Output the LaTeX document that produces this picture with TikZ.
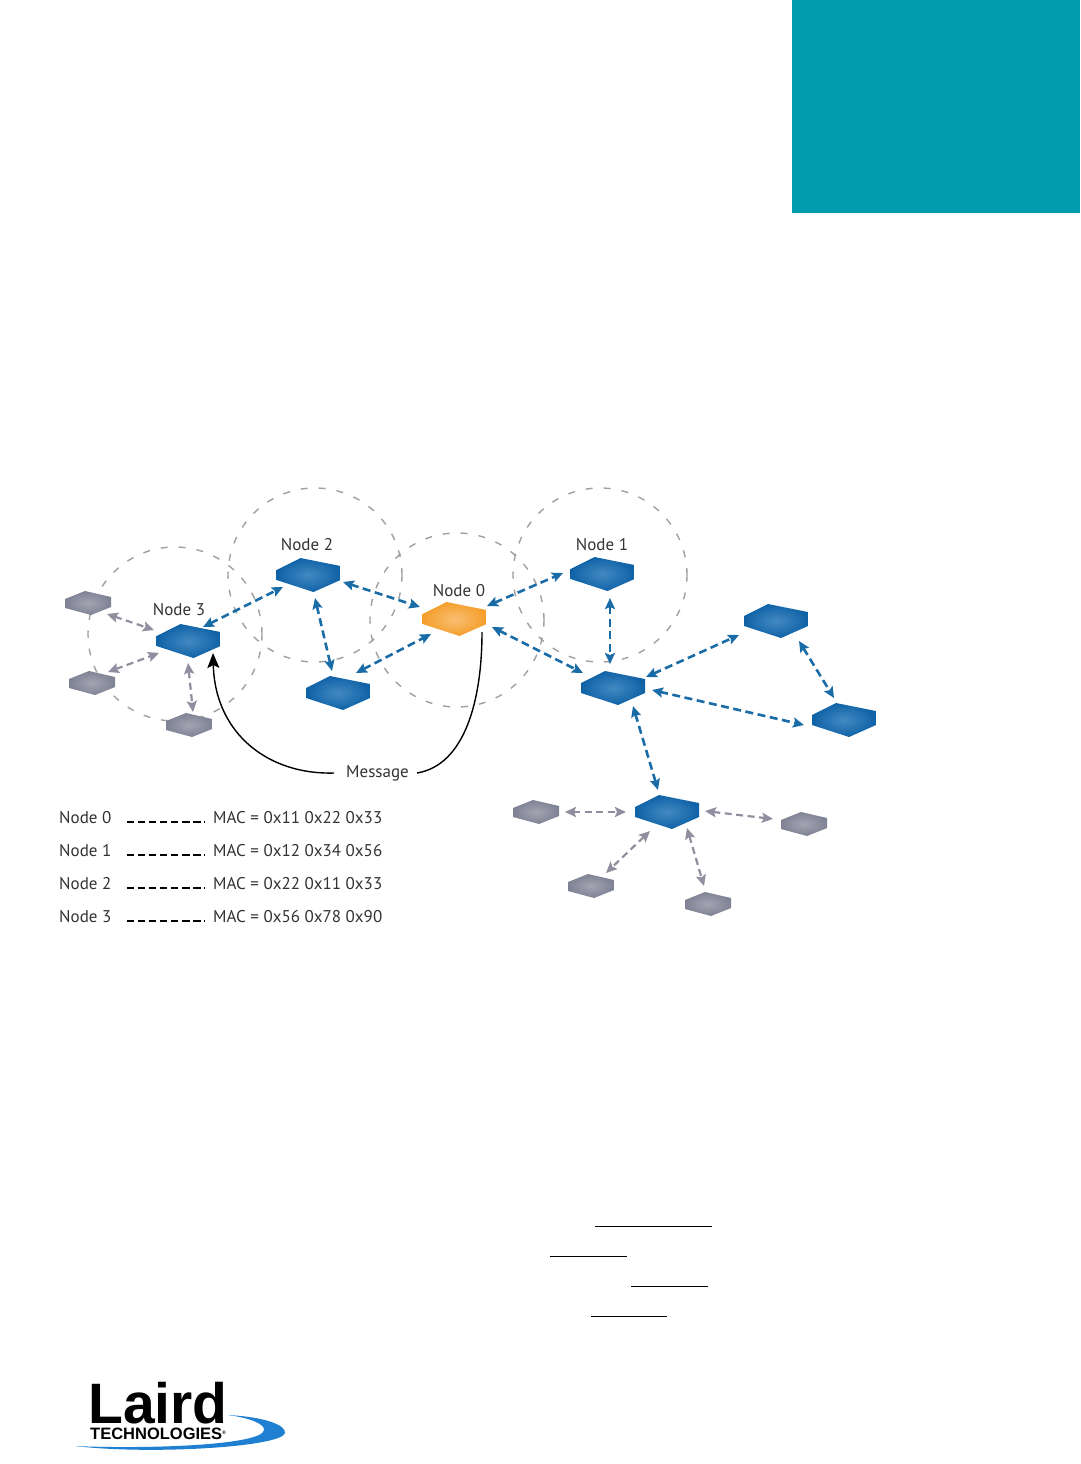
\documentclass[tikz,border=0pt]{standalone}
\usepackage{fontspec}
\setmainfont{PT Sans}
\newfontfamily\logofont{Liberation Sans}
\usetikzlibrary{arrows.meta}
\definecolor{bandteal}{HTML}{009CAE}
\definecolor{swblue}{HTML}{0F62A6}
\definecolor{swbluec}{HTML}{4389C2}
\definecolor{swgray}{HTML}{7F8294}
\definecolor{swgrayc}{HTML}{A3A5B2}
\definecolor{sworange}{HTML}{F59F2C}
\definecolor{sworangec}{HTML}{F9BE72}
\definecolor{linkblue}{HTML}{1A6CA6}
\definecolor{linkgray}{HTML}{8F8F9F}
\definecolor{rangegray}{HTML}{A0A0A0}
\definecolor{labelink}{HTML}{333333}
\definecolor{logoblue}{HTML}{1F7FD0}
\tikzset{
  hexbig/.style n args={2}{inner sep=0pt, outer sep=0pt, path picture={
    \shade[shift={(path picture bounding box.center)}, inner color=#1, outer color=#2]
      (-32,-5) -- (-8,-17) -- (32,-9) -- (32,5) -- (5,17) -- (-32,5) -- cycle;}},
  swbox/.style={hexbig={swbluec}{swblue}, minimum width=64pt, minimum height=34pt},
  orbox/.style={hexbig={sworangec}{sworange}, minimum width=64pt, minimum height=34pt},
  grbox/.style={inner sep=0pt, outer sep=0pt, minimum width=46pt, minimum height=24pt, path picture={
    \shade[shift={(path picture bounding box.center)}, inner color=swgrayc, outer color=swgray]
      (-23,-4) -- (-3,-12) -- (23,-6) -- (23,4) -- (3,12) -- (-23,5) -- cycle;}},
  rangering/.style={circle, draw=rangegray, line width=1.4pt, dash pattern=on 7pt off 11pt, minimum size=174pt, inner sep=0pt},
  bluelink/.style={{Stealth[length=11pt,width=10pt,inset=2pt]}-{Stealth[length=11pt,width=10pt,inset=2pt]},
    draw=linkblue, line width=2.6pt, dash pattern=on 8pt off 4.5pt},
  graylink/.style={{Stealth[length=11pt,width=10pt,inset=2pt]}-{Stealth[length=11pt,width=10pt,inset=2pt]},
    draw=linkgray, line width=2.2pt, dash pattern=on 7pt off 4.5pt},
  msgline/.style={draw=black, line width=1.4pt},
  legdash/.style={draw=black, line width=2.8pt, dash pattern=on 7.5pt off 3.6pt},
  nodelabel/.style={font=\fontsize{17}{20}\selectfont, text=labelink, inner sep=0pt},
  legname/.style={font=\fontsize{17}{20}\selectfont, text=labelink, inner sep=0pt, anchor=west},
  macline/.style={font=\fontsize{17}{20}\selectfont, text=labelink, inner sep=0pt, anchor=west},
  rule/.style={draw=black, line width=1pt}
}
\begin{document}
\begin{tikzpicture}[x=1pt, y=-1pt]
\useasboundingbox (0,0) rectangle (1080,1464);
\fill[bandteal] (792,0) rectangle (1080,213);
% range rings
\node[rangering] (ringthree) at (175,634) {};
\node[rangering] (ringtwo) at (315,575) {};
\node[rangering] (ringzero) at (457,620) {};
\node[rangering] (ringone) at (600,575) {};
% switches
\node[swbox] (nthree) at (188.5,641) {};
\node[swbox] (ntwo) at (308.5,575) {};
\node[orbox] (nzero) at (454.5,619) {};
\node[swbox] (none) at (602.5,574) {};
\node[swbox] (low) at (338,693) {};
\node[swbox] (hub) at (613,688) {};
\node[swbox] (upright) at (776,621) {};
\node[swbox] (farright) at (844,720) {};
\node[swbox] (lowhub) at (667,812) {};
\node[grbox] (gra) at (88,603) {};
\node[grbox] (grb) at (92,683) {};
\node[grbox] (grc) at (189,725) {};
\node[grbox] (grd) at (536,812) {};
\node[grbox] (gre) at (804,824) {};
\node[grbox] (grf) at (591,886) {};
\node[grbox] (grg) at (708,904) {};
% labels
\node[nodelabel] (lbltwo) at (307,545) {Node 2};
\node[nodelabel] (lblone) at (602,545) {Node 1};
\node[nodelabel] (lblzero) at (459,591) {Node 0};
\node[nodelabel] (lblthree) at (179,610) {Node 3};
\node[nodelabel, inner xsep=8pt] (message) at (377.5,773) {Message};
% links
\draw[bluelink] ([shift={(14.5,-14)}]nthree.center) -- ([shift={(-25.5,12)}]ntwo.center);
\draw[bluelink] ([shift={(34.5,7)}]ntwo.center) -- ([shift={(-34.5,-12)}]nzero.center);
\draw[bluelink] ([shift={(6.5,23)}]ntwo.center) -- ([shift={(-6,-22)}]low.center);
\draw[bluelink] ([shift={(18,-20)}]low.center) -- ([shift={(-23.5,15)}]nzero.center);
\draw[bluelink] ([shift={(32.5,-13)}]nzero.center) -- ([shift={(-39.5,-1)}]none.center);
\draw[bluelink] ([shift={(37.5,8)}]nzero.center) -- ([shift={(-30,-15)}]hub.center);
\draw[bluelink] ([shift={(7.5,24)}]none.center) -- ([shift={(-3,-24)}]hub.center);
\draw[bluelink] ([shift={(33,-11)}]hub.center) -- ([shift={(-37,14)}]upright.center);
\draw[bluelink] ([shift={(39,2)}]hub.center) -- ([shift={(-40,5)}]farright.center);
\draw[bluelink] ([shift={(23,20)}]upright.center) -- ([shift={(-10,-22)}]farright.center);
\draw[bluelink] ([shift={(20,18)}]hub.center) -- ([shift={(-9,-22)}]lowhub.center);
\draw[graylink] ([shift={(19,11)}]gra.center) -- ([shift={(-34.5,-11)}]nthree.center);
\draw[graylink] ([shift={(16,-11)}]grb.center) -- ([shift={(-29.5,12)}]nthree.center);
\draw[graylink] ([shift={(-0.5,22)}]nthree.center) -- ([shift={(4,-13)}]grc.center);
\draw[graylink] ([shift={(29,0)}]grd.center) -- ([shift={(-41,0)}]lowhub.center);
\draw[graylink] ([shift={(38,-1)}]lowhub.center) -- ([shift={(-31,-5)}]gre.center);
\draw[graylink] ([shift={(-17,19)}]lowhub.center) -- ([shift={(15,-13)}]grf.center);
\draw[graylink] ([shift={(20,16)}]lowhub.center) -- ([shift={(-4,-18)}]grg.center);
% message curves
\draw[msgline, -{Stealth[length=15pt,width=12pt,inset=3pt]}] ([xshift=-4pt]message.west) .. controls (270,775) and (215,735) .. ([xshift=-7.5pt,yshift=5pt]nthree.south east);
\draw[msgline] (message.east) .. controls (465,765) and (482,700) .. ([xshift=-4.5pt,yshift=4pt]nzero.south east);
% legend
\node[legname] (namezero) at (59,818) {Node 0};
\node[legname] (nameone) at (59,851) {Node 1};
\node[legname] (nametwo) at (59,884) {Node 2};
\node[legname] (namethree) at (59,917) {Node 3};
\node[macline] (maczero) at (213,818) {MAC = 0x11 0x22 0x33};
\node[macline] (macone) at (213,851) {MAC = 0x12 0x34 0x56};
\node[macline] (mactwo) at (213,884) {MAC = 0x22 0x11 0x33};
\node[macline] (macthree) at (213,917) {MAC = 0x56 0x78 0x90};
\draw[legdash] ([xshift=15pt,yshift=-4pt]namezero.east) -- ([xshift=-8pt,yshift=-4pt]maczero.west);
\draw[legdash] ([xshift=15pt,yshift=-4pt]nameone.east) -- ([xshift=-8pt,yshift=-4pt]macone.west);
\draw[legdash] ([xshift=15pt,yshift=-4pt]nametwo.east) -- ([xshift=-8pt,yshift=-4pt]mactwo.west);
\draw[legdash] ([xshift=15pt,yshift=-4pt]namethree.east) -- ([xshift=-8pt,yshift=-4pt]macthree.west);
% link rules
\draw[rule] (595,1226) -- (712,1226);
\draw[rule] (550,1256.5) -- (627,1256.5);
\draw[rule] (631,1286.5) -- (708,1286.5);
\draw[rule] (591,1316.5) -- (667,1316.5);
% logo
\fill[logoblue] (75,1446) .. controls (140,1449) and (262,1446) .. (264,1430) .. controls (265,1424) and (250,1418) .. (228,1415)
  .. controls (265,1417) and (286,1425) .. (285,1433) .. controls (282,1447) and (150,1455) .. (75,1446) -- cycle;
\node[inner sep=0pt, anchor=base west, font=\logofont\bfseries\fontsize{57}{57}\selectfont] (logoname) at (88,1423) {Laird};
\node[inner sep=0pt, anchor=base west, font=\logofont\bfseries\fontsize{16.5}{16.5}\selectfont] (logosub) at (90,1439) {TECHNOLOGIES\raisebox{5pt}{\fontsize{5}{5}\selectfont ®}};
\end{tikzpicture}
\end{document}
